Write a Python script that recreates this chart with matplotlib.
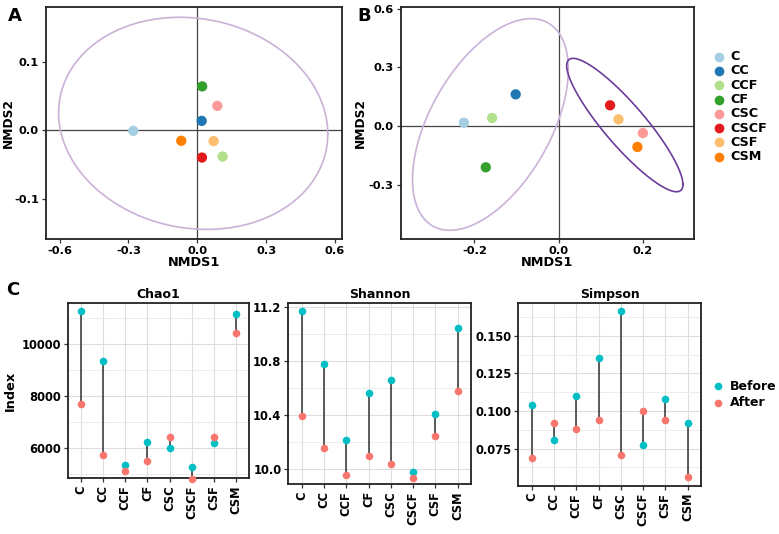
import numpy as np
import matplotlib
matplotlib.use("Agg")
import matplotlib.pyplot as plt
from matplotlib.ticker import MultipleLocator

plt.rcParams['font.family'] = ['DejaVu Sans']
plt.rcParams['font.weight'] = 'bold'
plt.rcParams['axes.unicode_minus'] = False

#------------------# Data #------------------#
groups = ["C", "CC", "CCF", "CF", "CSC", "CSCF", "CSF", "CSM"]
colors = ["#A6CEE3", "#1F78B4", "#B2DF8A", "#33A02C",
          "#FB9A99", "#E31A1C", "#FDBF6F", "#FF7F00"]

# NMDS panel A
a_x = [-0.279, 0.019, 0.110, 0.021, 0.087, 0.020, 0.071, -0.070]
a_y = [-0.001, 0.0136, -0.0385, 0.064, 0.0355, -0.040, -0.016, -0.0155]
# ellipse: center x, center y, sd x, sd y, rho
a_ell = [(-0.018, 0.010, 0.586, 0.155, -0.10)]

# NMDS panel B
b_x = [-0.225, -0.102, -0.158, -0.173, 0.200, 0.122, 0.142, 0.187]
b_y = [0.017, 0.162, 0.041, -0.211, -0.036, 0.106, 0.034, -0.107]
b_ell = [(-0.162, 0.008, 0.185, 0.541, 0.52),
         (0.157, 0.005, 0.138, 0.341, -0.89)]
ell_colors = ["#CAB2D6", "#6A3D9A"]

# alpha diversity
chao_before = [11282, 9352, 5340, 6245, 6012, 5301, 6220, 11177]
chao_after = [7709, 5728, 5146, 5507, 6439, 4823, 6439, 10427]
shan_before = [11.168, 10.774, 10.214, 10.562, 10.658, 9.976, 10.407, 11.040]
shan_after = [10.394, 10.155, 9.953, 10.094, 10.039, 9.936, 10.242, 10.577]
simp_before = [0.1040, 0.0808, 0.1100, 0.1352, 0.1664, 0.0773, 0.1080, 0.0920]
simp_after = [0.0690, 0.0920, 0.0880, 0.0938, 0.0708, 0.0998, 0.0938, 0.0560]

before_col = "#00BFC4"
after_col = "#F8766D"

W, H = 779, 534
fig = plt.figure(figsize=(W / 100, H / 100), dpi=100)


def box(l, t, r, b):
    return [l / W, (H - b) / H, (r - l) / W, (b - t) / H]


def ellipse(cx, cy, sx, sy, rho):
    t = np.linspace(0, 2 * np.pi, 200)
    cov = np.array([[sx * sx, rho * sx * sy], [rho * sx * sy, sy * sy]])
    L = np.linalg.cholesky(cov)
    pts = L @ np.vstack([np.cos(t), np.sin(t)])
    return pts[0] + cx, pts[1] + cy


def nmds_axes(ax):
    for s in ax.spines.values():
        s.set_linewidth(1.3)
        s.set_color("#222222")
    ax.axhline(0, color="#444444", lw=0.9, zorder=1)
    ax.axvline(0, color="#444444", lw=0.9, zorder=1)
    ax.tick_params(labelsize=8.2, length=3, width=0.9, color="#333333",
                   pad=2)
    ax.set_xlabel("NMDS1", fontsize=9.3, fontweight="bold", labelpad=0)
    ax.set_ylabel("NMDS2", fontsize=8.8, fontweight="bold", labelpad=1)


# ---- Panel A
axA = fig.add_axes(box(46, 7, 342, 239))
for e in a_ell:
    ex, ey = ellipse(*e)
    axA.plot(ex, ey, color=ell_colors[0], lw=1.2, zorder=2)
axA.scatter(a_x, a_y, c=colors, s=55, zorder=3, linewidths=0)
axA.set_xlim(-0.659, 0.630)
axA.set_ylim(-0.159, 0.180)
axA.set_xticks([-0.6, -0.3, 0.0, 0.3, 0.6])
axA.set_yticks([-0.1, 0.0, 0.1])
nmds_axes(axA)
axA.yaxis.set_label_coords(-0.106, 0.5)

# ---- Panel B
axB = fig.add_axes(box(400.7, 6.7, 694.3, 239.3))
for e, col in zip(b_ell, ell_colors):
    ex, ey = ellipse(*e)
    axB.plot(ex, ey, color=col, lw=1.2, zorder=2)
axB.scatter(b_x, b_y, c=colors, s=55, zorder=3, linewidths=0)
axB.set_xlim(-0.375, 0.322)
axB.set_ylim(-0.579, 0.610)
axB.set_xticks([-0.2, 0.0, 0.2])
axB.set_yticks([-0.3, 0.0, 0.3, 0.6])
nmds_axes(axB)

for i, (g, c) in enumerate(zip(groups, colors)):
    y = 1 - (56.7 + i * 14.3) / H
    fig.lines.append(plt.Line2D([719.3 / W], [y], marker="o", markersize=7,
                                color=c, markeredgewidth=0,
                                transform=fig.transFigure))
    fig.text(730 / W, y, g, fontsize=9.2, fontweight="bold", va="center")

# ---- Panel C


def alpha_axes(rect, before, after, title, ylim, major, minor):
    ax = fig.add_axes(rect)
    x = np.arange(len(groups))
    ax.set_xlim(-0.6, len(groups) - 0.4)
    ax.set_ylim(*ylim)
    ax.yaxis.set_major_locator(MultipleLocator(major))
    ax.yaxis.set_minor_locator(MultipleLocator(minor))
    ax.set_xticks(x)
    ax.set_xticklabels(groups, rotation=90, fontsize=9.2, fontweight="bold")
    ax.grid(which="major", color="#DEDEDE", lw=0.8)
    ax.grid(which="minor", axis="y", color="#EAEAEA", lw=0.6)
    ax.set_axisbelow(True)
    ax.vlines(x, before, after, color="#333333", lw=1.1, zorder=2)
    ax.scatter(x, before, color=before_col, s=30, zorder=3, linewidths=0,
               clip_on=False)
    ax.scatter(x, after, color=after_col, s=30, zorder=3, linewidths=0,
               clip_on=False)
    ax.tick_params(which="both", labelsize=8.3, length=3, width=0.9,
                   color="#333333", pad=2)
    ax.tick_params(which="minor", length=0)
    for s in ax.spines.values():
        s.set_linewidth(1.3)
        s.set_color("#222222")
    ax.set_title(title, fontsize=9, fontweight="bold", pad=4)
    return ax


axC1 = alpha_axes(box(67.7, 303.3, 249.3, 478.3), chao_before, chao_after,
                  "Chao1", (4847, 11581), 2000, 1000)
axC1.set_ylabel("Index", fontsize=9.3, fontweight="bold", labelpad=3)
axC2 = alpha_axes(box(288.3, 303.3, 471, 484.3), shan_before, shan_after,
                  "Shannon", (9.887, 11.225), 0.4, 0.2)
axC2.yaxis.set_major_formatter(plt.FormatStrFormatter("%.1f"))
axC3 = alpha_axes(box(518.3, 303.3, 701, 486), simp_before, simp_after,
                  "Simpson", (0.0502, 0.1715), 0.025, 0.0125)
axC3.yaxis.set_major_formatter(plt.FormatStrFormatter("%.3f"))

for i, (lab, c) in enumerate([("Before", before_col), ("After", after_col)]):
    y = 1 - (386 + i * 17) / H
    fig.lines.append(plt.Line2D([718 / W], [y], marker="o", markersize=5.5,
                                color=c, markeredgewidth=0,
                                transform=fig.transFigure))
    fig.text(730 / W, y, lab, fontsize=9, fontweight="bold", va="center")

# panel letters
fig.text(8 / W, 1 - 16 / H, "A", fontsize=13, fontweight="bold", va="center")
fig.text(357 / W, 1 - 16 / H, "B", fontsize=13, fontweight="bold", va="center")
fig.text(6 / W, 1 - 290 / H, "C", fontsize=13, fontweight="bold", va="center")

fig.savefig("out.png", dpi=100)
